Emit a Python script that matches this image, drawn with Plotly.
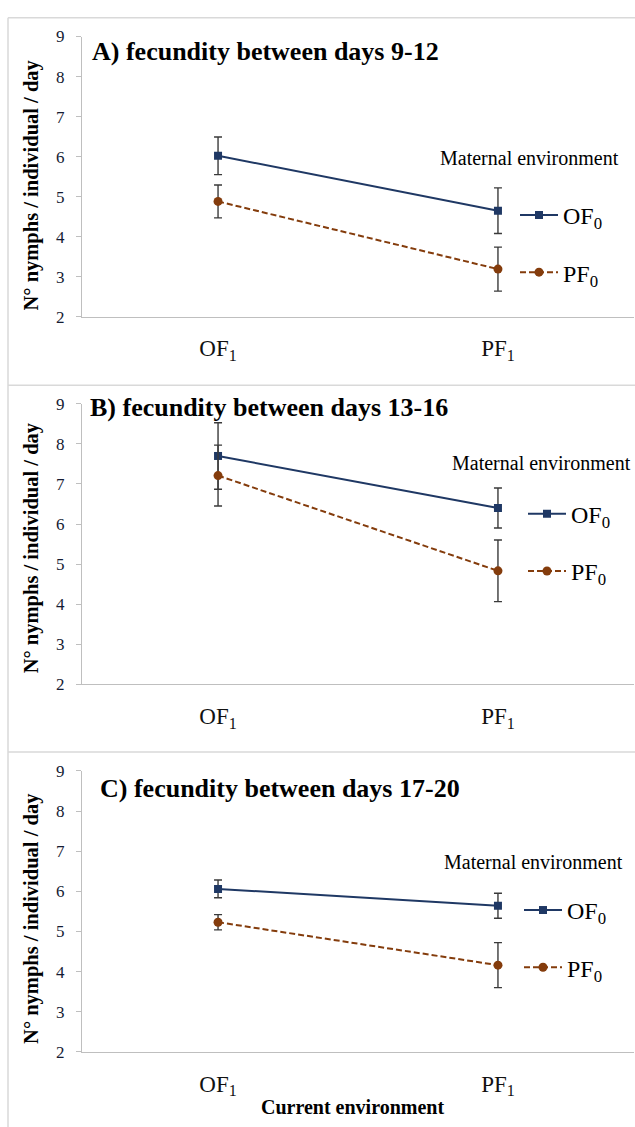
import plotly.graph_objects as go

W, H = 635, 1127

categories = ["OF<sub>1</sub>", "PF<sub>1</sub>"]
panel_titles = ["A) fecundity between days 9-12",
                "B) fecundity between days 13-16",
                "C) fecundity between days 17-20"]
y_title = "N° nymphs / individual / day"
x_title = "Current environment"
legend_title = "Maternal environment"

# Maternal environment OF0
of0_A = [6.02, 4.65]
of0_A_err = [0.47, 0.57]
of0_B = [7.70, 6.40]
of0_B_err = [0.83, 0.50]
of0_C = [6.06, 5.64]
of0_C_err = [0.22, 0.31]

# Maternal environment PF0
pf0_A = [4.88, 3.19]
pf0_A_err = [0.41, 0.55]
pf0_B = [7.21, 4.83]
pf0_B_err = [0.76, 0.77]
pf0_C = [5.23, 4.16]
pf0_C_err = [0.19, 0.56]

y_tick_vals = [2, 3, 4, 5, 6, 7, 8, 9]

SERIF = "Liberation Serif, Times New Roman, serif"
NAVY = "#1F3864"
BROWN = "#843C0C"
AXIS = "#BFBFBF"
ERR = "#3A3A3A"


def fx(px):
    return px / W


def fy(px):
    return 1 - px / H


# pixel positions of y=9 and y=2 for each panel
panel_px = [(28, 313), (401.7, 686.7), (775, 1060.7)]
legend_px = [(515, 187), (523, 491), (519, 894)]
legend_title_px = [(529, 152), (541, 461.7), (533, 868)]
title_px = [(90, 43), (88, 405), (98, 793)]
ytitle_px = [(31.5, 179), (31.5, 548), (31.5, 925)]

fig = go.Figure()

data = [(of0_A, of0_A_err, pf0_A, pf0_A_err),
        (of0_B, of0_B_err, pf0_B, pf0_B_err),
        (of0_C, of0_C_err, pf0_C, pf0_C_err)]

annotations = []
layout_axes = {}
for i, (o, oe, p, pe) in enumerate(data):
    sfx = "" if i == 0 else str(i + 1)
    leg = "legend" if i == 0 else "legend" + str(i + 1)
    xa = "x" + sfx
    ya = "y" + sfx
    fig.add_trace(go.Scatter(
        x=categories, y=o, xaxis=xa, yaxis=ya, mode="lines+markers",
        name="OF<sub>0</sub>", legend=leg, legendgroup="of" + sfx,
        line=dict(color=NAVY, width=2),
        marker=dict(symbol="square", size=8, color=NAVY),
        error_y=dict(type="data", array=oe, visible=True, color=ERR,
                     thickness=1.4, width=4),
    ))
    fig.add_trace(go.Scatter(
        x=categories, y=p, xaxis=xa, yaxis=ya, mode="lines+markers",
        name="PF<sub>0</sub>", legend=leg, legendgroup="pf" + sfx,
        line=dict(color=BROWN, width=2, dash="6px,3px"),
        marker=dict(symbol="circle", size=9, color=BROWN),
        error_y=dict(type="data", array=pe, visible=True, color=ERR,
                     thickness=1.4, width=4),
    ))
    top, bot = panel_px[i]
    layout_axes["xaxis" + sfx] = dict(
        domain=[fx(82), fx(634)], anchor=ya, type="category",
        range=[-0.486, 1.486], showline=True, linecolor=AXIS, linewidth=1.3,
        ticks="", showgrid=False, zeroline=False,
        tickfont=dict(family=SERIF, size=23, color="#111111"),
        ticklabelstandoff=11,
    )
    layout_axes["yaxis" + sfx] = dict(
        domain=[fy(bot), fy(top)], anchor=xa, range=[2, 9],
        tickvals=y_tick_vals, showline=True, linecolor=AXIS, linewidth=1.3,
        ticks="outside", ticklen=5, tickcolor=AXIS, showgrid=False,
        zeroline=False, ticklabelstandoff=8,
        tickfont=dict(family=SERIF, size=17, color="#141B33"),
    )
    lx, ly = legend_px[i]
    layout_axes[leg] = dict(
        x=fx(lx), y=fy(ly), xanchor="left", yanchor="top",
        bgcolor="rgba(0,0,0,0)", tracegroupgap=23, itemwidth=38,
        font=dict(family=SERIF, size=24, color="#000000"),
    )
    tx, ty = legend_title_px[i]
    annotations.append(dict(
        text=legend_title, x=fx(tx), y=fy(ty), xref="paper",
        yref="paper", showarrow=False, xanchor="center", yanchor="middle",
        font=dict(family=SERIF, size=20, color="#000000"),
    ))
    px_, py_ = title_px[i]
    annotations.append(dict(
        text="<b>" + panel_titles[i] + "</b>", x=fx(px_), y=fy(py_),
        xref="paper", yref="paper", showarrow=False, xanchor="left",
        yanchor="middle", font=dict(family=SERIF, size=26, color="#000000"),
    ))
    yx, yy = ytitle_px[i]
    annotations.append(dict(
        text="<b>" + y_title + "</b>", x=fx(yx), y=fy(yy), xref="paper",
        yref="paper", showarrow=False, xanchor="center", yanchor="middle",
        textangle=-90, font=dict(family=SERIF, size=20.5, color="#000000"),
    ))

annotations.append(dict(
    text="<b>" + x_title + "</b>", x=fx(352), y=fy(1117), xref="paper",
    yref="paper", showarrow=False, xanchor="center", yanchor="middle",
    font=dict(family=SERIF, size=20, color="#000000"),
))

FRAME = "#D9D9D9"
shapes = []
for yy in [9, 382.7, 755.7]:
    shapes.append(dict(type="line", xref="paper", yref="paper",
                       x0=fx(8), x1=1.05, y0=fy(yy), y1=fy(yy),
                       line=dict(color=FRAME, width=1.5)))
shapes.append(dict(type="line", xref="paper", yref="paper",
                   x0=fx(8), x1=fx(8), y0=fy(9), y1=-0.05,
                   line=dict(color=FRAME, width=1.5)))

fig.update_layout(
    width=W, height=H, margin=dict(l=0, r=0, t=0, b=0),
    paper_bgcolor="white", plot_bgcolor="rgba(0,0,0,0)",
    showlegend=True, annotations=annotations, shapes=shapes,
    **layout_axes,
)

fig.write_html("out.html")
